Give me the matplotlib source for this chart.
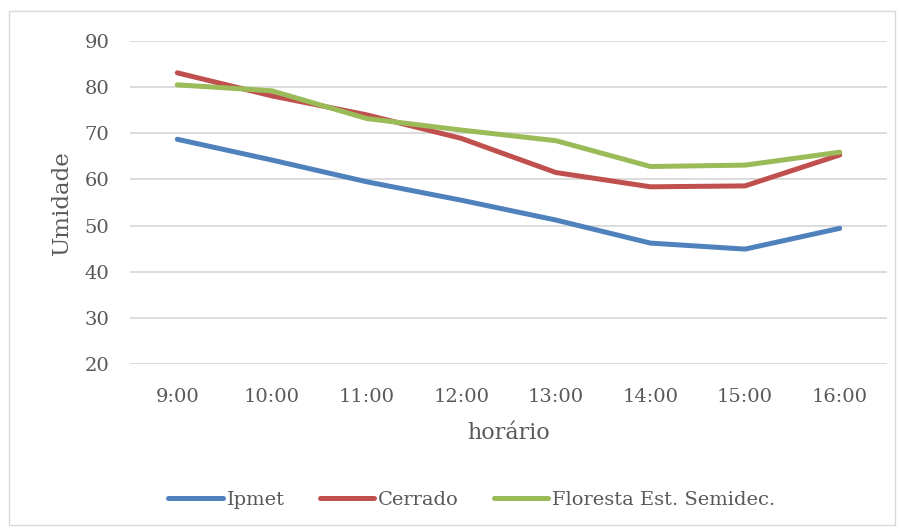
import matplotlib.pyplot as plt
from matplotlib.patches import Rectangle

# humidity readings through the day
horarios = ['9:00', '10:00', '11:00', '12:00', '13:00', '14:00', '15:00', '16:00']
ipmet = [68.7, 64.2, 59.5, 55.5, 51.2, 46.2, 44.9, 49.4]
cerrado = [83.1, 78.1, 74.0, 68.9, 61.5, 58.4, 58.6, 65.3]
floresta = [80.5, 79.2, 73.2, 70.7, 68.4, 62.8, 63.1, 65.9]

plt.rcParams['font.family'] = ['DejaVu Serif']
txt = '#595959'

fig = plt.figure(figsize=(8.99, 5.31), dpi=100)
ax = fig.add_axes([0.1446, 0.3145, 0.8421, 0.6083])

x = range(len(horarios))
ax.plot(x, ipmet, color='#4F81BD', lw=3.6, solid_capstyle='round', label='Ipmet')
ax.plot(x, cerrado, color='#C0504D', lw=3.6, solid_capstyle='round', label='Cerrado')
ax.plot(x, floresta, color='#9BBB59', lw=3.6, solid_capstyle='round', label='Floresta Est. Semidec.')

ax.set_xlim(-0.5, 7.5)
ax.set_ylim(20, 90)
ax.set_yticks(range(20, 91, 10))
ax.set_xticks(list(x))
ax.set_xticklabels(horarios)
ax.grid(axis='y', color='#D9D9D9', lw=1.3)
ax.set_axisbelow(True)
for s in ax.spines.values():
    s.set_visible(False)
ax.tick_params(length=0, colors=txt, labelsize=14)
ax.tick_params(axis='x', pad=17)
ax.tick_params(axis='y', pad=15)

ax.set_xlabel('horário', fontsize=16, color=txt, labelpad=12)
ax.set_ylabel('Umidade', fontsize=16.5, color=txt, labelpad=8)

leg = fig.legend(loc='center', bbox_to_anchor=(0.525, 0.058), ncol=3, frameon=False,
                 fontsize=14, handlelength=2.8, handletextpad=0.2, columnspacing=1.8)
for t in leg.get_texts():
    t.set_color(txt)

# light frame around the whole chart
fig.patches.append(Rectangle((0.010, 0.012), 0.985, 0.967, transform=fig.transFigure,
                             fill=False, edgecolor='#D9D9D9', lw=1.0))

fig.savefig('out.png', dpi=100)
